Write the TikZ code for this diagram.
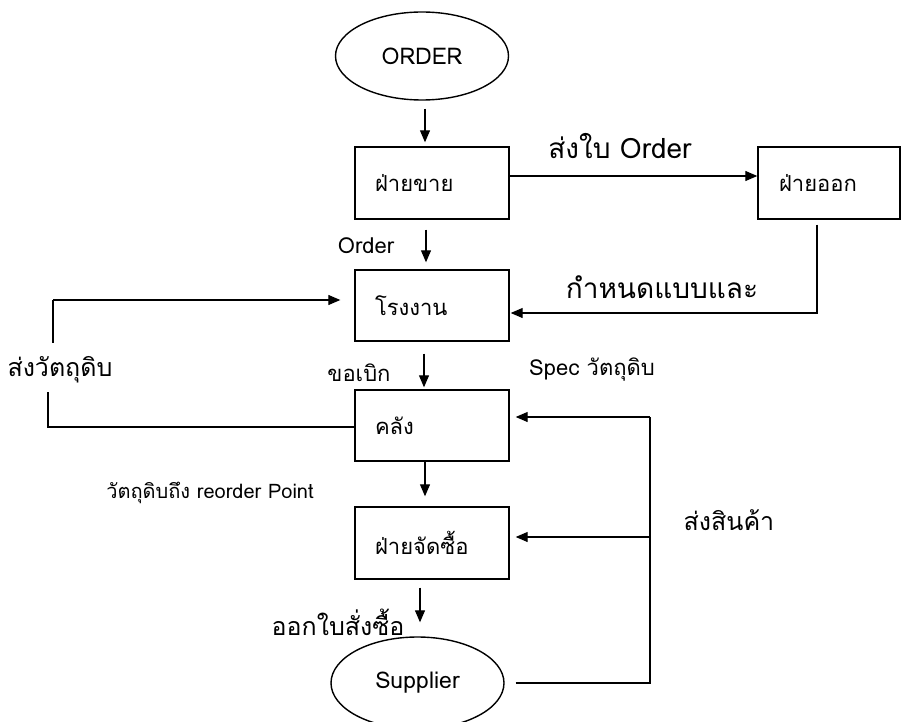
\documentclass[tikz,border=0pt]{standalone}
\usepackage{fontspec}
\newfontfamily\thai[Script=Thai]{Loma}
\usetikzlibrary{arrows.meta,shapes.geometric}
\begin{document}
\begin{tikzpicture}[x=1pt,y=-1pt,font=\thai,
  box/.style={draw,line width=1.4pt,text width=114pt,align=left,inner xsep=20pt,inner ysep=0pt,minimum height=72pt,font=\thai\fontsize{22}{25}\selectfont},
  oval/.style={draw,ellipse,line width=1.4pt,inner sep=0pt,minimum width=173pt,minimum height=88pt,font=\thai\fontsize{23}{26}\selectfont},
  lbl/.style={inner sep=0pt,font=\thai\fontsize{22}{26}\selectfont},
  midlbl/.style={inner sep=0pt,font=\thai\fontsize{25}{30}\selectfont},
  biglbl/.style={inner sep=0pt,font=\thai\fontsize{28}{32}\selectfont},
  smalllbl/.style={inner sep=0pt,font=\thai\fontsize{20}{23}\selectfont},
  line/.style={line width=1.2pt},
  arr/.style={line width=1.2pt,-{Triangle[length=12pt,width=10pt]}}]
\useasboundingbox (0,0) rectangle (902,722);
% nodes
\node[oval] (order) at (422,56) {ORDER};
\node[box] (sales) at (432,183) {ฝ่ายขาย};
\node[box,text width=100pt,inner xsep=21pt] (out) at (829,183) {ฝ่ายออก};
\node[box,minimum height=71pt] (factory) at (432,305.5) {โรงงาน};
\node[box,minimum height=71pt] (store) at (432,425.5) {คลัง};
\node[box] (purchase) at (432,543) {ฝ่ายจัดซื้อ};
\node[oval,minimum height=92pt] (supplier) at (417.5,683) {Supplier};
% labels
\node[biglbl] (l1) at (620,146) {ส่งใบ Order};
\node[lbl] (l2) at (366,246) {Order};
\node[biglbl] (l3) at (662,287) {กำหนดแบบและ};
\node[midlbl] (l4) at (60,370) {ส่งวัตถุดิบ};
\node[lbl] (l5) at (359,373) {ขอเบิก};
\node[lbl] (l6) at (592,370) {Spec วัตถุดิบ};
\node[smalllbl] (l7) at (210,493) {วัตถุดิบถึง reorder Point};
\node[midlbl] (l8) at (729,520) {ส่งสินค้า};
\node[midlbl] (l9) at (338,622) {ออกใบสั่งซื้อ};
% coordinates
\coordinate (lt) at (53,300);
\coordinate (lm) at (53,343);
\coordinate (lb) at (48,392);
\coordinate (rt) at (650,417);
\coordinate (rm) at (650,537);
\coordinate (rb) at (650,683);
% connectors
\draw[arr] ([xshift=3pt,yshift=-8pt]order.south) -- ([xshift=-7pt,yshift=4pt]sales.north);
\draw[arr] ([yshift=7pt]sales.east) -- ([yshift=7pt]out.west);
\draw[arr] ([xshift=-6pt,yshift=-10pt]sales.south) -- ([xshift=-6pt,yshift=7pt]factory.north);
\draw[arr] ([xshift=-12pt,yshift=-5pt]out.south) |- ([xshift=1pt,yshift=-7.5pt]factory.east);
\draw[arr] (lt) -- ([xshift=-14pt,yshift=5.5pt]factory.west);
\draw[line] (lt) -- (lm);
\draw[line] (lb) |- ([yshift=-1.5pt]store.west);
\draw[arr] ([xshift=-8pt,yshift=-12pt]factory.south) -- ([xshift=-8pt,yshift=2pt]store.north);
\draw[arr] ([xshift=-7pt]store.south) -- ([xshift=-7pt,yshift=10pt]purchase.north);
\draw[arr] ([xshift=-12pt,yshift=-8pt]purchase.south) -- ([xshift=2.5pt,yshift=14pt]supplier.north);
\draw[line] ([xshift=11pt]supplier.east) -- (rb) -- (rt);
\draw[arr] (rt) -- ([xshift=6pt]store.east |- rt);
\draw[arr] (rm) -- ([xshift=6pt]purchase.east |- rm);
\end{tikzpicture}
\end{document}
